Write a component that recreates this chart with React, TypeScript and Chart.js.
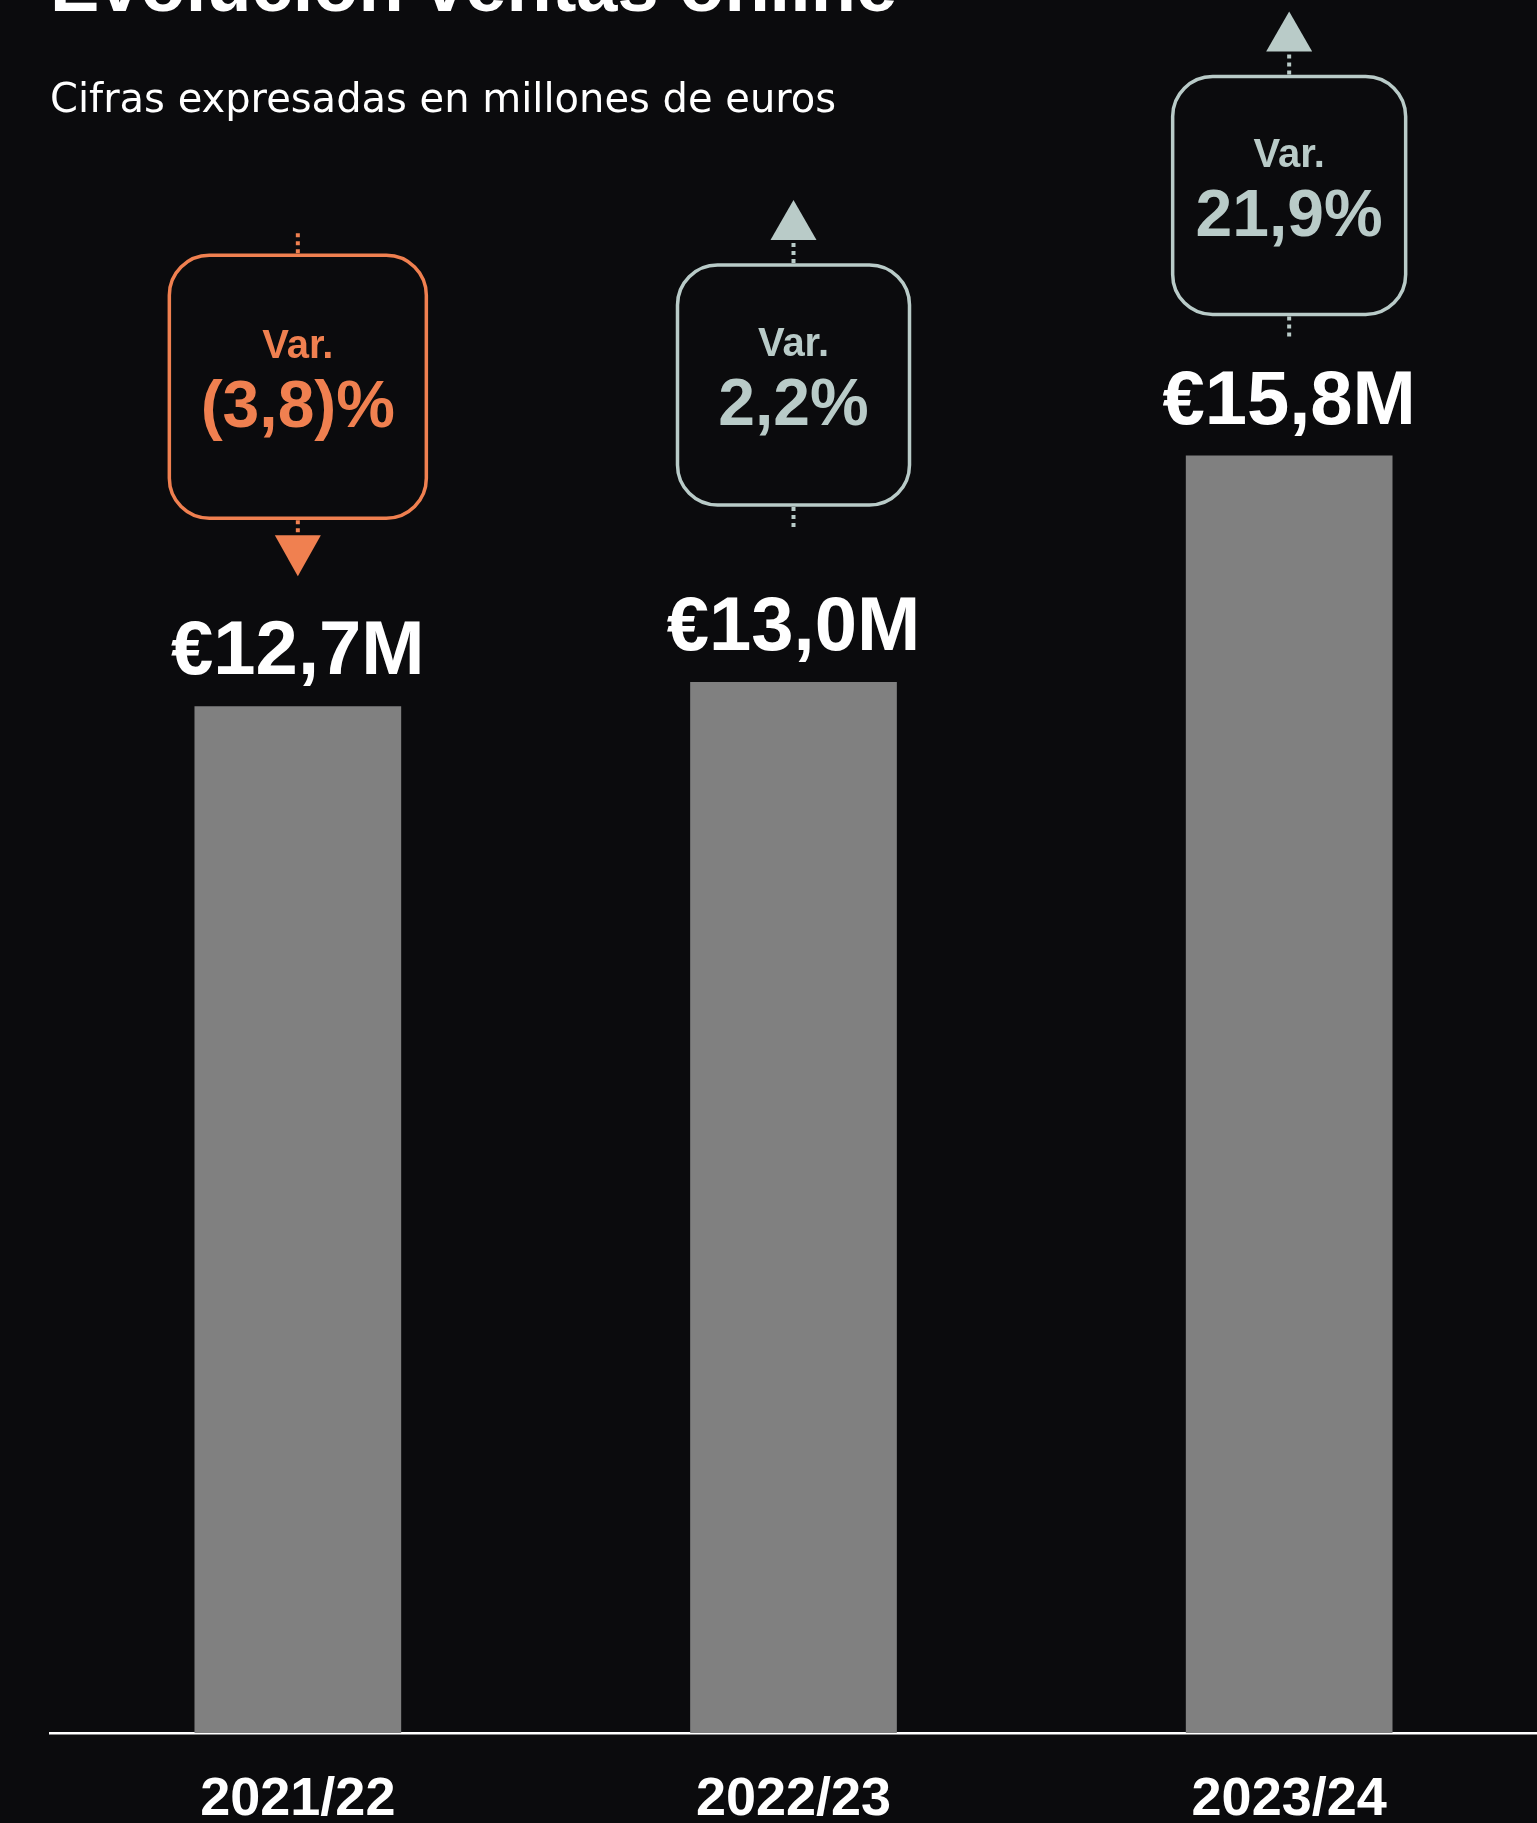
import React, { useEffect, useRef } from "react";
import { Chart, registerables } from "chart.js";

Chart.register(...registerables);

// ---------- data ----------
const categories = ["2021/22", "2022/23", "2023/24"];
const salesMillions = [12.7, 13.0, 15.8];
const valueLabels = ["€12,7M", "€13,0M", "€15,8M"];
const variationLabels = ["(3,8)%", "2,2%", "21,9%"];
const variationDirections = ["down", "up", "up"];
const yAxisMax = 20;

const TITLE = "Evolución ventas online";
const SUBTITLE = "Cifras expresadas en millones de euros";
const VAR_LABEL = "Var.";

// ---------- styles ----------
const BG = "#0b0b0d";
const BAR_COLOR = "#808080";
const NEG_COLOR = "#f08050";
const POS_COLOR = "#b9cbc8";
const FONT = "'Liberation Sans', Arial, sans-serif";
const SUB_FONT = "'DejaVu Sans', sans-serif";
// box sizes and vertical offset of the box centre above the bar top
const boxStyles = [
  { w: 257, h: 263, offset: 319.5 },
  { w: 232, h: 240, offset: 297 },
  { w: 233, h: 238, offset: 260 },
];

const annotationPlugin = {
  id: "annotations",
  beforeDraw(chart: any) {
    const ctx = chart.ctx;
    ctx.save();
    ctx.fillStyle = BG;
    ctx.fillRect(0, 0, chart.width, chart.height);
    ctx.fillStyle = "#ffffff";
    ctx.textAlign = "left";
    ctx.textBaseline = "alphabetic";
    ctx.font = `bold 74px ${FONT}`;
    ctx.fillText(TITLE, 50, 11);
    ctx.font = `40px ${SUB_FONT}`;
    ctx.fillText(SUBTITLE, 50, 112);
    ctx.restore();
  },
  afterDatasetsDraw(chart: any) {
    const ctx = chart.ctx;
    const meta = chart.getDatasetMeta(0);
    meta.data.forEach((bar: any, i: number) => {
      const x = bar.x;
      const top = bar.y;
      ctx.save();
      // value label
      ctx.fillStyle = "#ffffff";
      ctx.textAlign = "center";
      ctx.textBaseline = "alphabetic";
      ctx.font = `bold 76px ${FONT}`;
      ctx.fillText(valueLabels[i], x, top - 32);

      const st = boxStyles[i];
      const color = variationDirections[i] === "down" ? NEG_COLOR : POS_COLOR;
      const cy = top - st.offset;
      const bx = x - st.w / 2;
      const by = cy - st.h / 2;
      const bb = cy + st.h / 2;

      // box
      ctx.strokeStyle = color;
      ctx.lineWidth = 3.5;
      ctx.beginPath();
      if ((ctx as any).roundRect) {
        (ctx as any).roundRect(bx, by, st.w, st.h, 40);
      } else {
        ctx.rect(bx, by, st.w, st.h);
      }
      ctx.stroke();

      // texts
      ctx.fillStyle = color;
      ctx.font = `bold 40px ${FONT}`;
      ctx.fillText(VAR_LABEL, x, cy - 29);
      ctx.font = `bold 66px ${FONT}`;
      ctx.fillText(variationLabels[i], x, cy + 40);

      // dotted stubs
      ctx.setLineDash([4, 4]);
      ctx.lineWidth = 4;
      ctx.beginPath();
      ctx.moveTo(x, by - 2);
      ctx.lineTo(x, by - 22);
      ctx.moveTo(x, bb + 2);
      ctx.lineTo(x, bb + 22);
      ctx.stroke();
      ctx.setLineDash([]);

      // arrow
      ctx.beginPath();
      if (variationDirections[i] === "down") {
        const base = bb + 17;
        ctx.moveTo(x - 23, base);
        ctx.lineTo(x + 23, base);
        ctx.lineTo(x, base + 41);
      } else {
        const base = by - 25;
        ctx.moveTo(x - 23, base);
        ctx.lineTo(x + 23, base);
        ctx.lineTo(x, base - 40);
      }
      ctx.closePath();
      ctx.fill();
      ctx.restore();
    });
  },
};

export default function App() {
  const ref = useRef<HTMLCanvasElement>(null);
  useEffect(() => {
    if (!ref.current) return;
    const chart = new Chart(ref.current, {
      type: "bar",
      data: {
        labels: categories,
        datasets: [
          {
            data: salesMillions,
            backgroundColor: BAR_COLOR,
            borderWidth: 0,
            barPercentage: 0.417,
            categoryPercentage: 1,
          },
        ],
      },
      options: {
        responsive: false,
        animation: false,
        devicePixelRatio: 1,
        layout: { padding: { left: 50, right: 0, top: 116, bottom: -44 } },
        plugins: {
          legend: { display: false },
          tooltip: { enabled: false },
          title: { display: false },
        },
        scales: {
          x: {
            grid: { display: false, drawTicks: false, tickLength: 0 },
            border: { display: true, color: "#ffffff", width: 2.5 },
            ticks: {
              color: "#ffffff",
              padding: 40,
              font: { family: FONT, size: 54, weight: "bold", lineHeight: 1 },
            },
          },
          y: { display: false, min: 0, max: yAxisMax },
        },
      },
      plugins: [annotationPlugin],
    } as any);
    return () => chart.destroy();
  }, []);
  return (
    <div
      style={{
        position: "absolute",
        top: 0,
        left: 0,
        width: 1537,
        height: 1823,
        overflow: "hidden",
        background: BG,
      }}
    >
      <canvas ref={ref} width={1537} height={1823} style={{ display: "block" }} />
    </div>
  );
}
